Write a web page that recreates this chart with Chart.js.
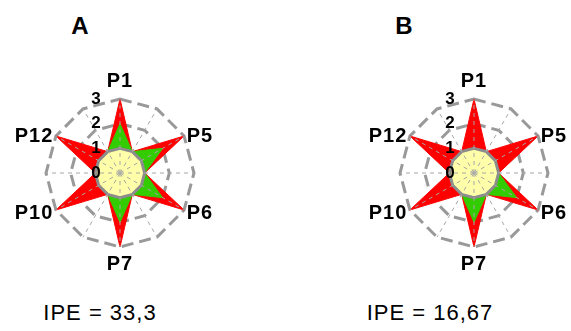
<!DOCTYPE html>
<html lang="pt">
<head>
    <meta charset="UTF-8">
    <title>IPE radar</title>
    <script src="https://cdn.jsdelivr.net/npm/chart.js"></script>
    <style>
        body {
            margin: 0;
            background: #fff;
            font-family: "Liberation Sans", Arial, sans-serif;
            color: #000;
        }
        #wrap {
            position: relative;
            width: 571px;
            height: 331px;
            overflow: hidden;
        }
        .panel {
            position: absolute;
            top: 53px;
        }
        .title {
            position: absolute;
            top: 14px;
            width: 40px;
            margin-left: -20px;
            text-align: center;
            font-weight: bold;
            font-size: 24px;
            line-height: 1;
        }
        .ipe {
            position: absolute;
            top: 302px;
            width: 200px;
            margin-left: -100px;
            text-align: center;
            font-size: 22px;
            letter-spacing: 1px;
            line-height: 1;
        }
    </style>
</head>
<body>
<div id="wrap">
    <div class="title" style="left: 80px;">A</div>
    <div class="title" style="left: 404px;">B</div>

    <canvas id="chartA" class="panel" width="240" height="240" style="left: 0px;"></canvas>
    <canvas id="chartB" class="panel" width="240" height="240" style="left: 354px;"></canvas>

    <div class="ipe" style="left: 100px;">IPE = 33,3</div>
    <div class="ipe" style="left: 430px;">IPE = 16,67</div>
</div>

<script>
    // 12 axes, only every second one is named
    const axisLabels = ['P1', '', 'P5', '', 'P6', '', 'P7', '', 'P10', '', 'P12', ''];
    const tickValues = [0, 1, 2, 3];

    // red star (max) and yellow core are the same in both panels
    const starValues = [3, 1, 3, 1, 3, 1, 3, 1, 3, 1, 3, 1];
    const coreValues = [1, 1, 1, 1, 1, 1, 1, 1, 1, 1, 1, 1];
    // green = observed profile
    const greenA = [2, 1, 2, 1, 2, 1, 2, 1, 1, 1, 1, 1];
    const greenB = [1, 1, 1, 1, 2, 1, 2, 1, 1, 1, 1, 1];

    const FONT = '"Liberation Sans", Arial, sans-serif';

    // axis names and the 0..3 numbers, placed from the radial scale
    const radarText = {
        id: 'radarText',
        afterDraw(chart) {
            const s = chart.scales.r;
            const ctx = chart.ctx;
            const R = s.drawingArea;
            const cap = 14;
            ctx.save();
            ctx.fillStyle = '#000';
            ctx.font = 'bold 20px ' + FONT;
            ctx.letterSpacing = '1px';
            ctx.textBaseline = 'alphabetic';
            axisLabels.forEach((txt, i) => {
                if (!txt) return;
                const d = s.getPointPosition(i, 10);
                const dx = d.x - s.xCenter;
                const dy = d.y - s.yCenter;
                let p;
                if (Math.abs(dx) < 0.5) {
                    ctx.textAlign = 'center';
                    if (dy < 0) {
                        p = s.getPointPosition(i, R + 12);
                        ctx.fillText(txt, p.x, p.y);
                    } else {
                        p = s.getPointPosition(i, R + 9);
                        ctx.fillText(txt, p.x, p.y + cap);
                    }
                } else {
                    p = s.getPointPosition(i, R + 3);
                    ctx.textAlign = dx > 0 ? 'left' : 'right';
                    ctx.fillText(txt, p.x, p.y + cap / 2);
                }
            });

            ctx.font = 'bold 17px ' + FONT;
            ctx.letterSpacing = '0px';
            ctx.textAlign = 'center';
            ctx.textBaseline = 'middle';
            tickValues.forEach(v => {
                const y = s.yCenter - s.getDistanceFromCenterForValue(v);
                ctx.fillText(String(v), s.xCenter - 24, y);
            });
            ctx.restore();
        }
    };

    function makeRadar(id, greenValues) {
        const ctx = document.getElementById(id).getContext('2d');
        return new Chart(ctx, {
            type: 'radar',
            data: {
                labels: axisLabels,
                datasets: [
                    {
                        data: coreValues,
                        backgroundColor: '#ffffaa',
                        borderColor: '#8c8c8c',
                        borderWidth: 3,
                        fill: true,
                        pointRadius: 0,
                        rAxisID: 'r'
                    },
                    {
                        data: greenValues,
                        backgroundColor: '#33cc00',
                        borderColor: '#33cc00',
                        borderWidth: 1,
                        fill: true,
                        pointRadius: 0,
                        rAxisID: 'r'
                    },
                    {
                        data: starValues,
                        backgroundColor: '#ff0000',
                        borderColor: '#ff0000',
                        borderWidth: 1,
                        fill: true,
                        pointRadius: 0,
                        rAxisID: 'r'
                    }
                ]
            },
            options: {
                responsive: false,
                animation: false,
                layout: { padding: 46 },
                elements: { line: { tension: 0 } },
                plugins: {
                    legend: { display: false },
                    tooltip: { enabled: false }
                },
                scales: {
                    r: {
                        min: 0,
                        max: 3,
                        ticks: { stepSize: 1, display: false },
                        grid: { color: '#999999', lineWidth: 3 },
                        border: { dash: [12, 6] },
                        angleLines: { display: false },
                        pointLabels: { display: false }
                    },
                    // second radial scale only for the dashed spokes, drawn over the fills
                    r2: {
                        type: 'radialLinear',
                        axis: 'r',
                        min: 0,
                        max: 3,
                        ticks: { display: false, z: 1 },
                        grid: { display: false, z: 1 },
                        angleLines: { display: true, color: '#a6a6a6', lineWidth: 1, borderDash: [4, 4] },
                        pointLabels: { display: false }
                    }
                }
            },
            plugins: [radarText]
        });
    }

    makeRadar('chartA', greenA);
    makeRadar('chartB', greenB);
</script>
</body>
</html>
